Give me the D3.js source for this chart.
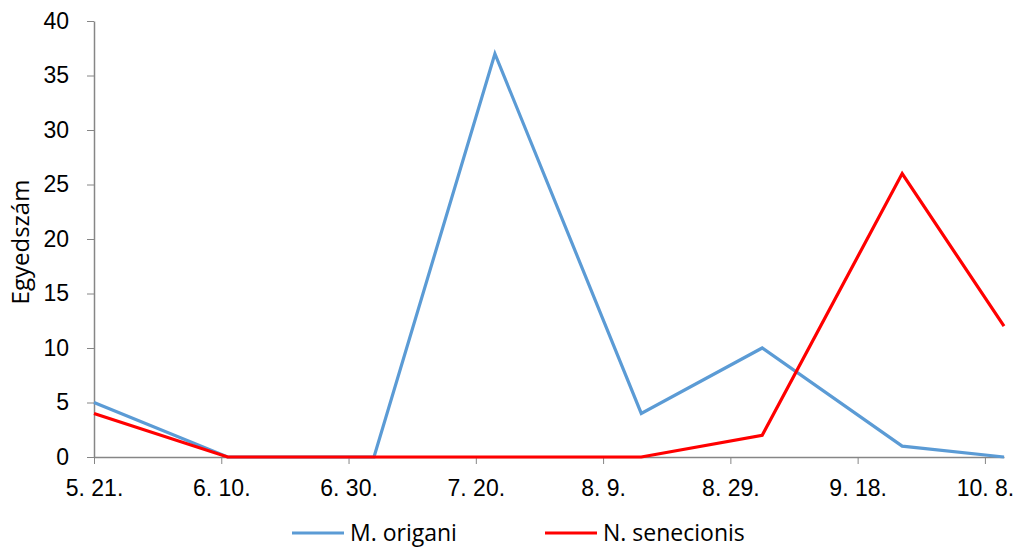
<!DOCTYPE html>
<html>
<head>
    <meta charset="utf-8">
    <script src="https://d3js.org/d3.v7.min.js"></script>
    <style>
        body { margin: 0; background: #fff; }
        svg { display: block; font-family: "Open Sans", "Noto Sans", sans-serif; }
        .axis path, .axis line { stroke: #868686; }
        .axis text { fill: #000; font-size: 23px; }
    </style>
</head>
<body>
<svg width="1018" height="547"></svg>
<script>
    // sampling dates and counts
    let dates = ['2013-05-21', '2013-06-11', '2013-07-04', '2013-07-23', '2013-08-15', '2013-09-03', '2013-09-25', '2013-10-11'];
    let origani = [5, 0, 0, 37, 4, 10, 1, 0];
    let senecionis = [4, 0, 0, 0, 0, 2, 26, 12];
    let xTicks = ['2013-05-21', '2013-06-10', '2013-06-30', '2013-07-20', '2013-08-09', '2013-08-29', '2013-09-18', '2013-10-08'];
    let yTicks = [0, 5, 10, 15, 20, 25, 30, 35, 40];
    let seriesNames = ['M. origani', 'N. senecionis'];
    let colors = ['#5b9bd5', '#ff0000'];

    let parse = d3.utcParse('%Y-%m-%d');
    let fmt = d3.utcFormat('%-m. %-d.');

    let svg = d3.select('svg');
    let margin = {top: 21, bottom: 90, right: 14, left: 94};
    let width = 1018 - margin.left - margin.right;
    let height = 547 - margin.top - margin.bottom;

    let g = svg.append('g')
        .attr('transform', `translate(${margin.left}, ${margin.top})`);

    let x = d3.scaleUtc()
        .domain(d3.extent(dates, parse))
        .range([0, width]);
    let y = d3.scaleLinear()
        .domain([0, 40])
        .range([height, 0]);

    let yAxis = g.append('g')
        .attr('class', 'axis')
        .call(d3.axisLeft(y).tickValues(yTicks).tickSize(7).tickPadding(18).tickSizeOuter(0));
    yAxis.select('.domain').attr('stroke-width', 1.5);

    let xAxis = g.append('g')
        .attr('class', 'axis')
        .attr('transform', `translate(0,${height})`)
        .call(d3.axisBottom(x).tickValues(xTicks.map(parse)).tickFormat(fmt).tickSize(7).tickPadding(16).tickSizeOuter(0));
    xAxis.select('.domain').attr('stroke-width', 1.5);

    let series = [origani, senecionis];
    let line = d3.line()
        .x((d, i) => x(parse(dates[i])))
        .y(d => y(d));

    g.selectAll('.series')
        .data(series)
        .join('path')
        .attr('class', 'series')
        .attr('fill', 'none')
        .attr('stroke', (d, i) => colors[i])
        .attr('stroke-width', 3.2)
        .attr('stroke-linejoin', 'miter')
        .attr('d', line);

    svg.append('text')
        .attr('transform', `translate(29, 242) rotate(-90)`)
        .attr('text-anchor', 'middle')
        .style('font-size', '24px')
        .text('Egyedszám');

    let legend = svg.append('g')
        .attr('transform', 'translate(292, 533)');
    let items = legend.selectAll('g')
        .data(seriesNames)
        .join('g')
        .attr('transform', (d, i) => `translate(${i * 253}, 0)`);
    items.append('line')
        .attr('x1', 0).attr('x2', 52)
        .attr('stroke', (d, i) => colors[i])
        .attr('stroke-width', 3.2);
    items.append('text')
        .attr('x', 58)
        .attr('dy', '0.35em')
        .style('font-size', '23px')
        .text(d => d);
</script>
</body>
</html>
